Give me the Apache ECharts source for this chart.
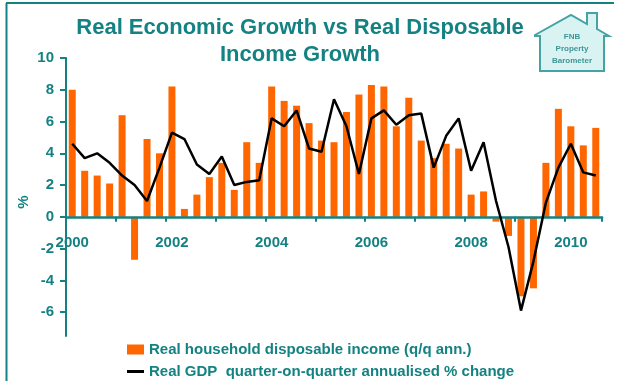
<!DOCTYPE html>
<html>
<head>
<meta charset="utf-8">
<script src="https://cdn.jsdelivr.net/npm/echarts@6/dist/echarts.min.js"></script>
<style>
html,body{margin:0;padding:0;background:#fff;}
#chart{width:618px;height:381px;}
</style>
</head>
<body>
<div id="chart"></div>
<script>
var categories = ["2000Q1","2000Q2","2000Q3","2000Q4","2001Q1","2001Q2","2001Q3","2001Q4",
"2002Q1","2002Q2","2002Q3","2002Q4","2003Q1","2003Q2","2003Q3","2003Q4",
"2004Q1","2004Q2","2004Q3","2004Q4","2005Q1","2005Q2","2005Q3","2005Q4",
"2006Q1","2006Q2","2006Q3","2006Q4","2007Q1","2007Q2","2007Q3","2007Q4",
"2008Q1","2008Q2","2008Q3","2008Q4","2009Q1","2009Q2","2009Q3","2009Q4",
"2010Q1","2010Q2","2010Q3"];
var incomeGrowth = [8.0, 2.9, 2.6, 2.1, 6.4, -2.7, 4.9, 4.0, 8.2, 0.5, 1.4, 2.5, 3.4, 1.7, 4.7, 3.4,
  8.2, 7.3, 7.0, 5.9, 4.8, 4.7, 6.6, 7.7, 8.3, 8.2, 5.7, 7.5, 4.8, 3.7, 4.6, 4.3,
  1.4, 1.6, -0.3, -1.2, -5.0, -4.5, 3.4, 6.8, 5.7, 4.5, 5.6];
var gdpGrowth = [4.6, 3.7, 4.0, 3.4, 2.6, 2.0, 1.0, 3.1, 5.3, 4.9, 3.3, 2.7, 3.8, 2.0, 2.2, 2.3,
  6.2, 5.7, 6.7, 4.3, 4.1, 7.4, 5.7, 2.7, 6.2, 6.7, 5.8, 6.4, 6.5, 3.1, 5.1, 6.2,
  2.9, 4.7, 1.0, -1.9, -5.9, -2.8, 0.9, 3.1, 4.6, 2.8, 2.6];
var yTickValues = [-6, -4, -2, 0, 2, 4, 6, 8, 10];
var seriesNames = ["Real household disposable income (q/q ann.)", "Real GDP  quarter-on-quarter annualised % change"];
var titleText = "Real Economic Growth vs Real Disposable\nIncome Growth";

var TEAL = "#148282";
var FONT = "'Liberation Sans', Arial, sans-serif";
var chart = echarts.init(document.getElementById('chart'), null, {renderer: 'canvas'});
var legendText = {color: TEAL, fontSize: 15, fontWeight: 'bold', fontFamily: FONT, padding: [0, 0, 0, 0]};
chart.setOption({
  animation: false,
  backgroundColor: '#fff',
  textStyle: {fontFamily: FONT},
  title: {
    text: titleText,
    left: 295, top: 9, textAlign: 'center',
    textStyle: {color: TEAL, fontSize: 22, fontWeight: 'bold', lineHeight: 27, fontFamily: FONT}
  },
  grid: {left: 66, right: 16, top: 58, bottom: 45, containLabel: false},
  legend: [
    {left: 122, top: 337, itemWidth: 17, itemHeight: 10, textStyle: legendText,
      data: [{name: seriesNames[0], icon: 'rect'}]},
    {left: 122, top: 359, itemWidth: 17, itemHeight: 3, textStyle: legendText,
      data: [{name: seriesNames[1], icon: 'rect'}]}
  ],
  xAxis: {
    type: 'category', data: categories, boundaryGap: true, z: 2.5,
    axisLine: {show: true, onZero: true, lineStyle: {color: TEAL, width: 2.5}},
    axisTick: {show: true, interval: 3, length: 5, lineStyle: {color: TEAL, width: 2}},
    axisLabel: {interval: 7, margin: -101, color: TEAL, fontSize: 15, fontWeight: 'bold', fontFamily: FONT,
      hideOverlap: false, formatter: function (v) { return v.slice(0, 4); }},
    splitLine: {show: false}
  },
  yAxis: {
    type: 'value', min: -7.5, max: 10,
    axisLine: {show: true, lineStyle: {color: TEAL, width: 2}},
    axisTick: {show: true, length: 6, customValues: yTickValues, lineStyle: {color: TEAL, width: 2}},
    axisLabel: {customValues: yTickValues, margin: 12, color: TEAL, fontSize: 15, fontWeight: 'bold', fontFamily: FONT},
    splitLine: {show: false}
  },
  series: [
    {name: seriesNames[0], type: 'bar', data: incomeGrowth, barWidth: 7, itemStyle: {color: '#FF6600'}},
    {name: seriesNames[1], type: 'line', data: gdpGrowth, symbol: 'none', smooth: false, z: 3,
      lineStyle: {color: '#000', width: 2.5}, itemStyle: {color: '#000'}}
  ],
  graphic: [
    {type: 'line', shape: {x1: 6, y1: 3, x2: 614, y2: 3}, style: {stroke: TEAL, lineWidth: 2}},
    {type: 'line', shape: {x1: 6.5, y1: 3, x2: 6.5, y2: 381}, style: {stroke: TEAL, lineWidth: 2}},
    {type: 'text', x: 23.5, y: 202, rotation: Math.PI / 2,
      style: {text: '%', fill: TEAL, font: 'bold 15px ' + FONT, align: 'center', verticalAlign: 'middle'}},
    {type: 'polygon', shape: {points: [[535,35],[571,15],[587,24],[587,13],[597,13],[597,29],[609,36],[604,36],[604,71],[540,71],[540,36],[535,36]]},
      style: {fill: '#d9f3f3', stroke: '#45a3a3', lineWidth: 2}},
    {type: 'text', x: 572, y: 37, style: {text: 'FNB', fill: '#3f9595', font: 'bold 8px ' + FONT, align: 'center', verticalAlign: 'middle'}},
    {type: 'text', x: 572, y: 49, style: {text: 'Property', fill: '#3f9595', font: 'bold 8px ' + FONT, align: 'center', verticalAlign: 'middle'}},
    {type: 'text', x: 572, y: 61, style: {text: 'Barometer', fill: '#3f9595', font: 'bold 8px ' + FONT, align: 'center', verticalAlign: 'middle'}}
  ]
});
</script>
</body>
</html>
